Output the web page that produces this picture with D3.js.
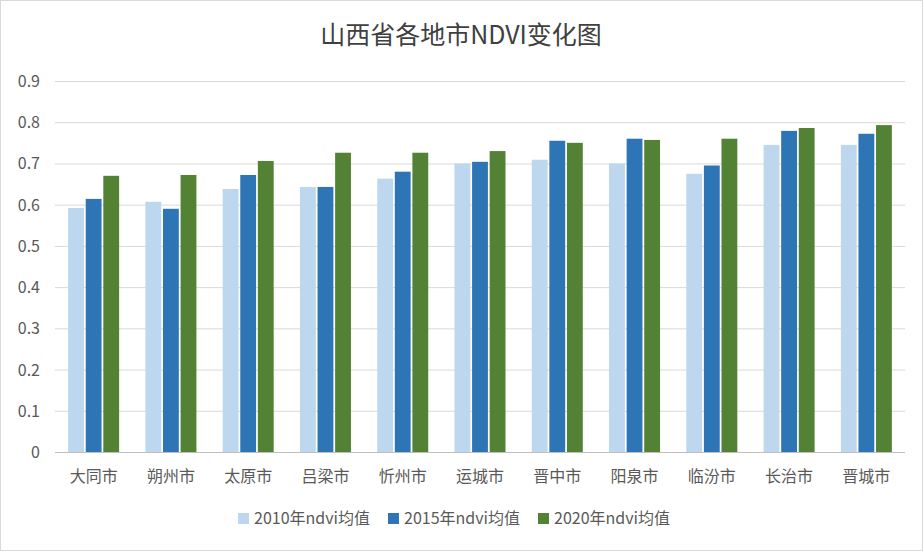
<!DOCTYPE html><html><head><meta charset="utf-8"><script src="https://cdn.jsdelivr.net/npm/d3@7"></script>
<style>body{margin:0;background:#fff}</style></head><body><svg id="c" width="923" height="551"></svg>
<script>
const categories=["大同市","朔州市","太原市","吕梁市","忻州市","运城市","晋中市","阳泉市","临汾市","长治市","晋城市"];
const seriesNames=["2010年ndvi均值","2015年ndvi均值","2020年ndvi均值"];
const s2010=[0.592,0.607,0.638,0.643,0.663,0.700,0.709,0.700,0.675,0.745,0.745];
const s2015=[0.614,0.590,0.672,0.643,0.680,0.704,0.755,0.760,0.695,0.779,0.772];
const s2020=[0.670,0.672,0.706,0.726,0.726,0.730,0.750,0.757,0.760,0.786,0.793];
const yTicks=[0,0.1,0.2,0.3,0.4,0.5,0.6,0.7,0.8,0.9];
const colors=["#BDD7EE","#2E75B6","#548235"];
const series=[s2010,s2015,s2020];
const svg=d3.select("#c");
const font="'Noto Sans CJK SC','Liberation Sans',sans-serif";
svg.append("rect").attr("x",0.5).attr("y",0.5).attr("width",922).attr("height",550).attr("fill","#fff").attr("stroke","#d9d9d9");
const L=55,R=905,T=81,B=452;
const x=d3.scaleBand().domain(categories).range([L,R]);
const xi=d3.scaleBand().domain([0,1,2]).range([0,51]).paddingInner(0.1);
const y=d3.scaleLinear().domain([0,0.9]).range([B,T]);
svg.append("g").selectAll("line").data(yTicks).join("line").attr("x1",L).attr("x2",R)
 .attr("y1",d=>y(d)+0.5).attr("y2",d=>y(d)+0.5).attr("stroke",d=>d===0?"#bfbfbf":"#d9d9d9");
svg.append("g").selectAll("text").data(yTicks).join("text").attr("x",40).attr("y",d=>y(d)+6)
 .attr("text-anchor","end").attr("font-family",font).attr("font-size",16).attr("fill","#595959").text(d=>d===0?"0":d.toFixed(1));
series.forEach((s,k)=>{
 svg.append("g").selectAll("rect").data(s).join("rect")
  .attr("x",(d,i)=>x(categories[i])+x.bandwidth()/2-25.5+xi(k)).attr("width",xi.bandwidth())
  .attr("y",d=>y(d)).attr("height",d=>B-y(d)).attr("fill",colors[k]);
});
svg.append("g").selectAll("text").data(categories).join("text").attr("x",d=>x(d)+x.bandwidth()/2).attr("y",482)
 .attr("text-anchor","middle").attr("font-family",font).attr("font-size",16).attr("fill","#595959").text(d=>d);
svg.append("text").attr("x",461).attr("y",44).attr("text-anchor","middle").attr("font-family",font).attr("font-size",25).attr("fill","#404040").text("山西省各地市NDVI变化图");
const lg=[238,388,538];
seriesNames.forEach((n,k)=>{
 svg.append("rect").attr("x",lg[k]).attr("y",513).attr("width",11).attr("height",11).attr("fill",colors[k]);
 svg.append("text").attr("x",lg[k]+16).attr("y",524).attr("font-family",font).attr("font-size",16).attr("fill","#595959").text(n);
});
</script></body></html>
